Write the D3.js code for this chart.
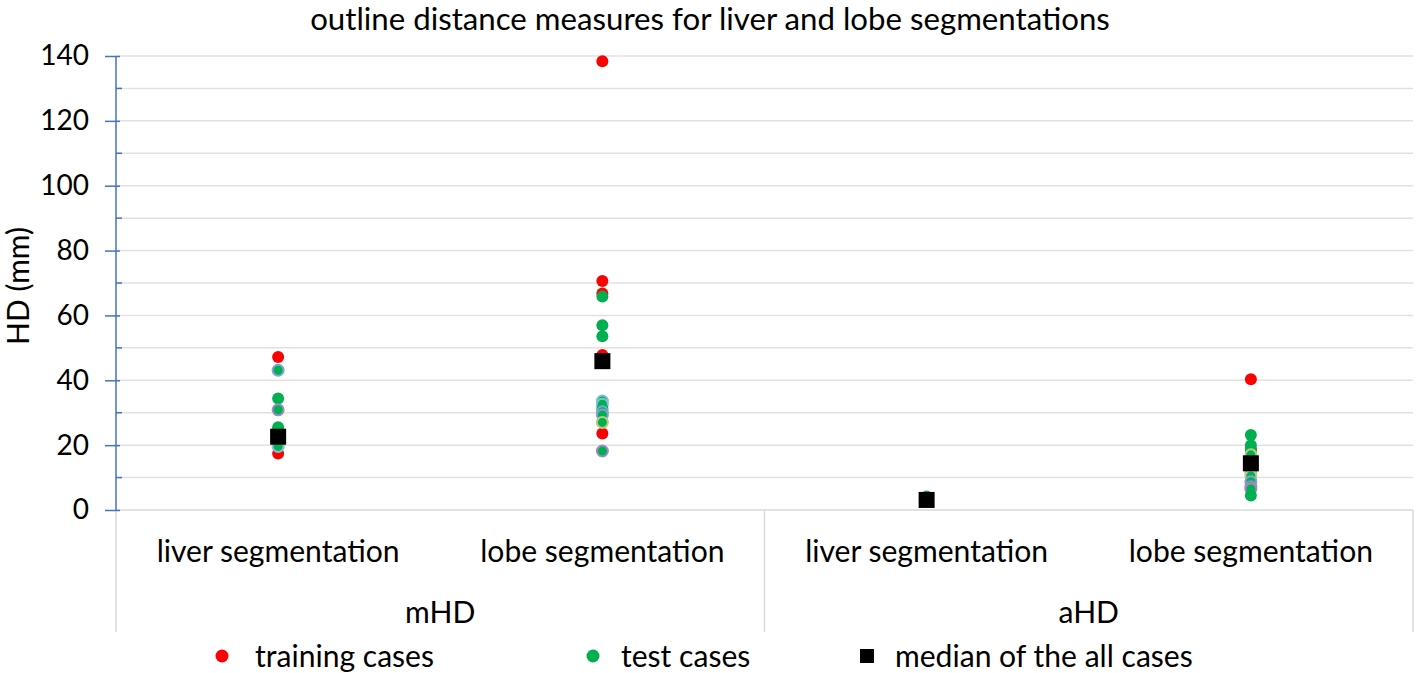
<!DOCTYPE html>
<html lang="en">
<head>
  <meta charset="UTF-8" />
  <title>outline distance measures for liver and lobe segmentations</title>
  <script src="https://d3js.org/d3.v7.min.js"></script>
  <style>
    body {
      margin: 0;
      background: #ffffff;
      font-family: 'Lato', 'Open Sans', sans-serif;
    }
    svg text { fill: #000000; }
    .grid line { stroke: #e1e1e1; stroke-width: 1.5; }
    .frame { stroke: #d9d9d9; stroke-width: 1.5; fill: none; }
  </style>
</head>
<body>
  <div id="chart"></div>

  <script>
    // categories along the x axis (two groups of two)
    const groups = ["mHD", "aHD"];
    const categories = ["liver segmentation", "lobe segmentation", "liver segmentation", "lobe segmentation"];
    const yTicks = [0, 20, 40, 60, 80, 100, 120, 140];

    // values, one list per category
    const trainingCases = [
      [47.2, 17.4],
      [138.4, 70.6, 66.8, 47.8, 23.6],
      [],
      [40.3, 18.6, 9.0]
    ];
    const testCases = [
      [43.1, 34.4, 30.9, 25.5, 24.6, 19.6],
      [65.8, 57.0, 53.6, 33.6, 32.6, 31.2, 30.3, 29.3, 27.0, 18.2],
      [4.2, 3.2, 2.9],
      [23.1, 20.0, 18.5, 17.0, 11.6, 10.5, 8.7, 7.2, 6.5, 4.5]
    ];
    // outline of each test case marker (null = plain)
    const testOutlines = [
      ["blue", null, "purple", null, null, "aqua"],
      [null, null, null, "aqua", "aqua", null, "blue", "blue", "olive", "purple"],
      [null, null, null],
      [null, null, null, "olive", "aqua", "olive", "blue", "purple", "purple", null]
    ];
    const medians = [22.6, 45.9, 3.1, 14.4];

    const legendLabels = ["training cases", "test cases", "median of the all cases"];

    const outlineColor = { blue: "#7ea4d6", purple: "#9d8ac6", aqua: "#7cc3d6", olive: "#bccb7e" };
    const red = "#ff0000", green = "#00b050";

    const W = 1418, H = 673;
    const plot = { left: 116, right: 1413, top: 56, bottom: 510 };
    const labelSize = 31;

    const svg = d3.select("#chart").append("svg")
      .attr("width", W).attr("height", H);

    const idx = categories.map((d, i) => i);
    const x = d3.scaleBand().domain(idx).range([plot.left, plot.right]).padding(0);
    const xGroup = d3.scaleBand().domain(groups).range([plot.left, plot.right]).padding(0);
    const y = d3.scaleLinear().domain([0, 140]).range([plot.bottom, plot.top]);

    function fitWidth(sel, w) {
      const len = sel.node().getComputedTextLength();
      const fs = parseFloat(sel.attr("font-size"));
      sel.attr("font-size", fs * w / len);
      return fs * w / len;
    }

    // title
    const title = svg.append("text")
      .attr("x", 710).attr("y", 30)
      .attr("text-anchor", "middle")
      .attr("font-size", 26)
      .text("outline distance measures for liver and lobe segmentations");
    fitWidth(title, 800);

    // gridlines every 10
    svg.append("g").attr("class", "grid")
      .selectAll("line")
      .data(d3.range(10, 141, 10))
      .join("line")
      .attr("x1", plot.left).attr("x2", plot.right)
      .attr("y1", d => y(d)).attr("y2", d => y(d));

    // x axis frame: baseline and dividers
    svg.append("line").attr("class", "frame")
      .attr("x1", plot.left).attr("x2", plot.right)
      .attr("y1", y(0)).attr("y2", y(0));
    svg.append("g").selectAll("line")
      .data([plot.left, xGroup("aHD"), plot.right])
      .join("line").attr("class", "frame")
      .attr("x1", d => d).attr("x2", d => d)
      .attr("y1", y(0)).attr("y2", 632);

    // y axis
    const yAxis = svg.append("g")
      .attr("transform", `translate(${plot.left},0)`)
      .call(d3.axisLeft(y).tickValues(yTicks).tickSize(11).tickPadding(16));
    yAxis.select(".domain").remove();
    yAxis.selectAll(".tick line").attr("stroke", "#4472c4").attr("stroke-width", 1.5).attr("x2", -11).attr("x1", 4);
    yAxis.selectAll(".tick text").attr("font-family", "Lato, sans-serif").attr("font-size", 28).attr("fill", "#000").attr("x", -27);
    yAxis.append("g").selectAll("line")
      .data(d3.range(10, 140, 20))
      .join("line")
      .attr("x1", 0).attr("x2", 6)
      .attr("y1", d => y(d)).attr("y2", d => y(d))
      .attr("stroke", "#4472c4").attr("stroke-width", 1.5);
    yAxis.append("line")
      .attr("x1", 0).attr("x2", 0).attr("y1", y(140)).attr("y2", y(0))
      .attr("stroke", "#4472c4").attr("stroke-width", 1.5);

    // y axis title
    const yTitle = svg.append("text")
      .attr("transform", `translate(29,${(plot.top + plot.bottom) / 2 + 3}) rotate(-90)`)
      .attr("text-anchor", "middle")
      .attr("font-size", 32)
      .text("HD (mm)");
    fitWidth(yTitle, 118);

    // category labels
    const catLabels = svg.append("g").selectAll("text")
      .data(idx)
      .join("text")
      .attr("x", d => x(d) + x.bandwidth() / 2)
      .attr("y", 562)
      .attr("text-anchor", "middle")
      .attr("font-size", labelSize)
      .text(d => categories[d]);
    const fs = fitWidth(d3.select(catLabels.nodes()[0]), 243);
    catLabels.attr("font-size", fs);

    svg.append("g").selectAll("text")
      .data(groups)
      .join("text")
      .attr("x", d => xGroup(d) + xGroup.bandwidth() / 2)
      .attr("y", 623)
      .attr("text-anchor", "middle")
      .attr("font-size", fs)
      .text(d => d);

    // points
    const pts = svg.append("g");
    trainingCases.forEach((vals, i) => {
      pts.append("g").selectAll("circle")
        .data(vals)
        .join("circle")
        .attr("cx", x(i) + x.bandwidth() / 2)
        .attr("cy", d => y(d))
        .attr("r", 6)
        .attr("fill", red);
    });
    testCases.forEach((vals, i) => {
      pts.append("g").selectAll("circle")
        .data(vals.map((v, j) => ({ v, o: testOutlines[i][j] })))
        .join("circle")
        .attr("cx", x(i) + x.bandwidth() / 2)
        .attr("cy", d => y(d.v))
        .attr("r", d => d.o ? 5.5 : 6)
        .attr("fill", green)
        .attr("stroke", d => d.o ? outlineColor[d.o] : "none")
        .attr("stroke-width", 2);
    });
    const sq = 16;
    pts.append("g").selectAll("rect")
      .data(medians)
      .join("rect")
      .attr("x", (d, i) => x(i) + x.bandwidth() / 2 - sq / 2)
      .attr("y", d => y(d) - sq / 2)
      .attr("width", sq).attr("height", sq)
      .attr("fill", "#000");

    // legend
    const legendX = [222, 593, 867];
    const leg = svg.append("g").selectAll("g")
      .data(legendLabels)
      .join("g")
      .attr("transform", (d, i) => `translate(${legendX[i]},656)`);
    leg.each(function (d, i) {
      const g = d3.select(this);
      if (i < 2) {
        g.append("circle").attr("r", 6.5).attr("fill", i === 0 ? red : green);
      } else {
        g.append("rect").attr("x", -7).attr("y", -7).attr("width", 14).attr("height", 14).attr("fill", "#000");
      }
      g.append("text")
        .attr("x", i === 0 ? 33 : 28)
        .attr("y", 11)
        .attr("font-size", fs)
        .text(d);
    });
  </script>
</body>
</html>
